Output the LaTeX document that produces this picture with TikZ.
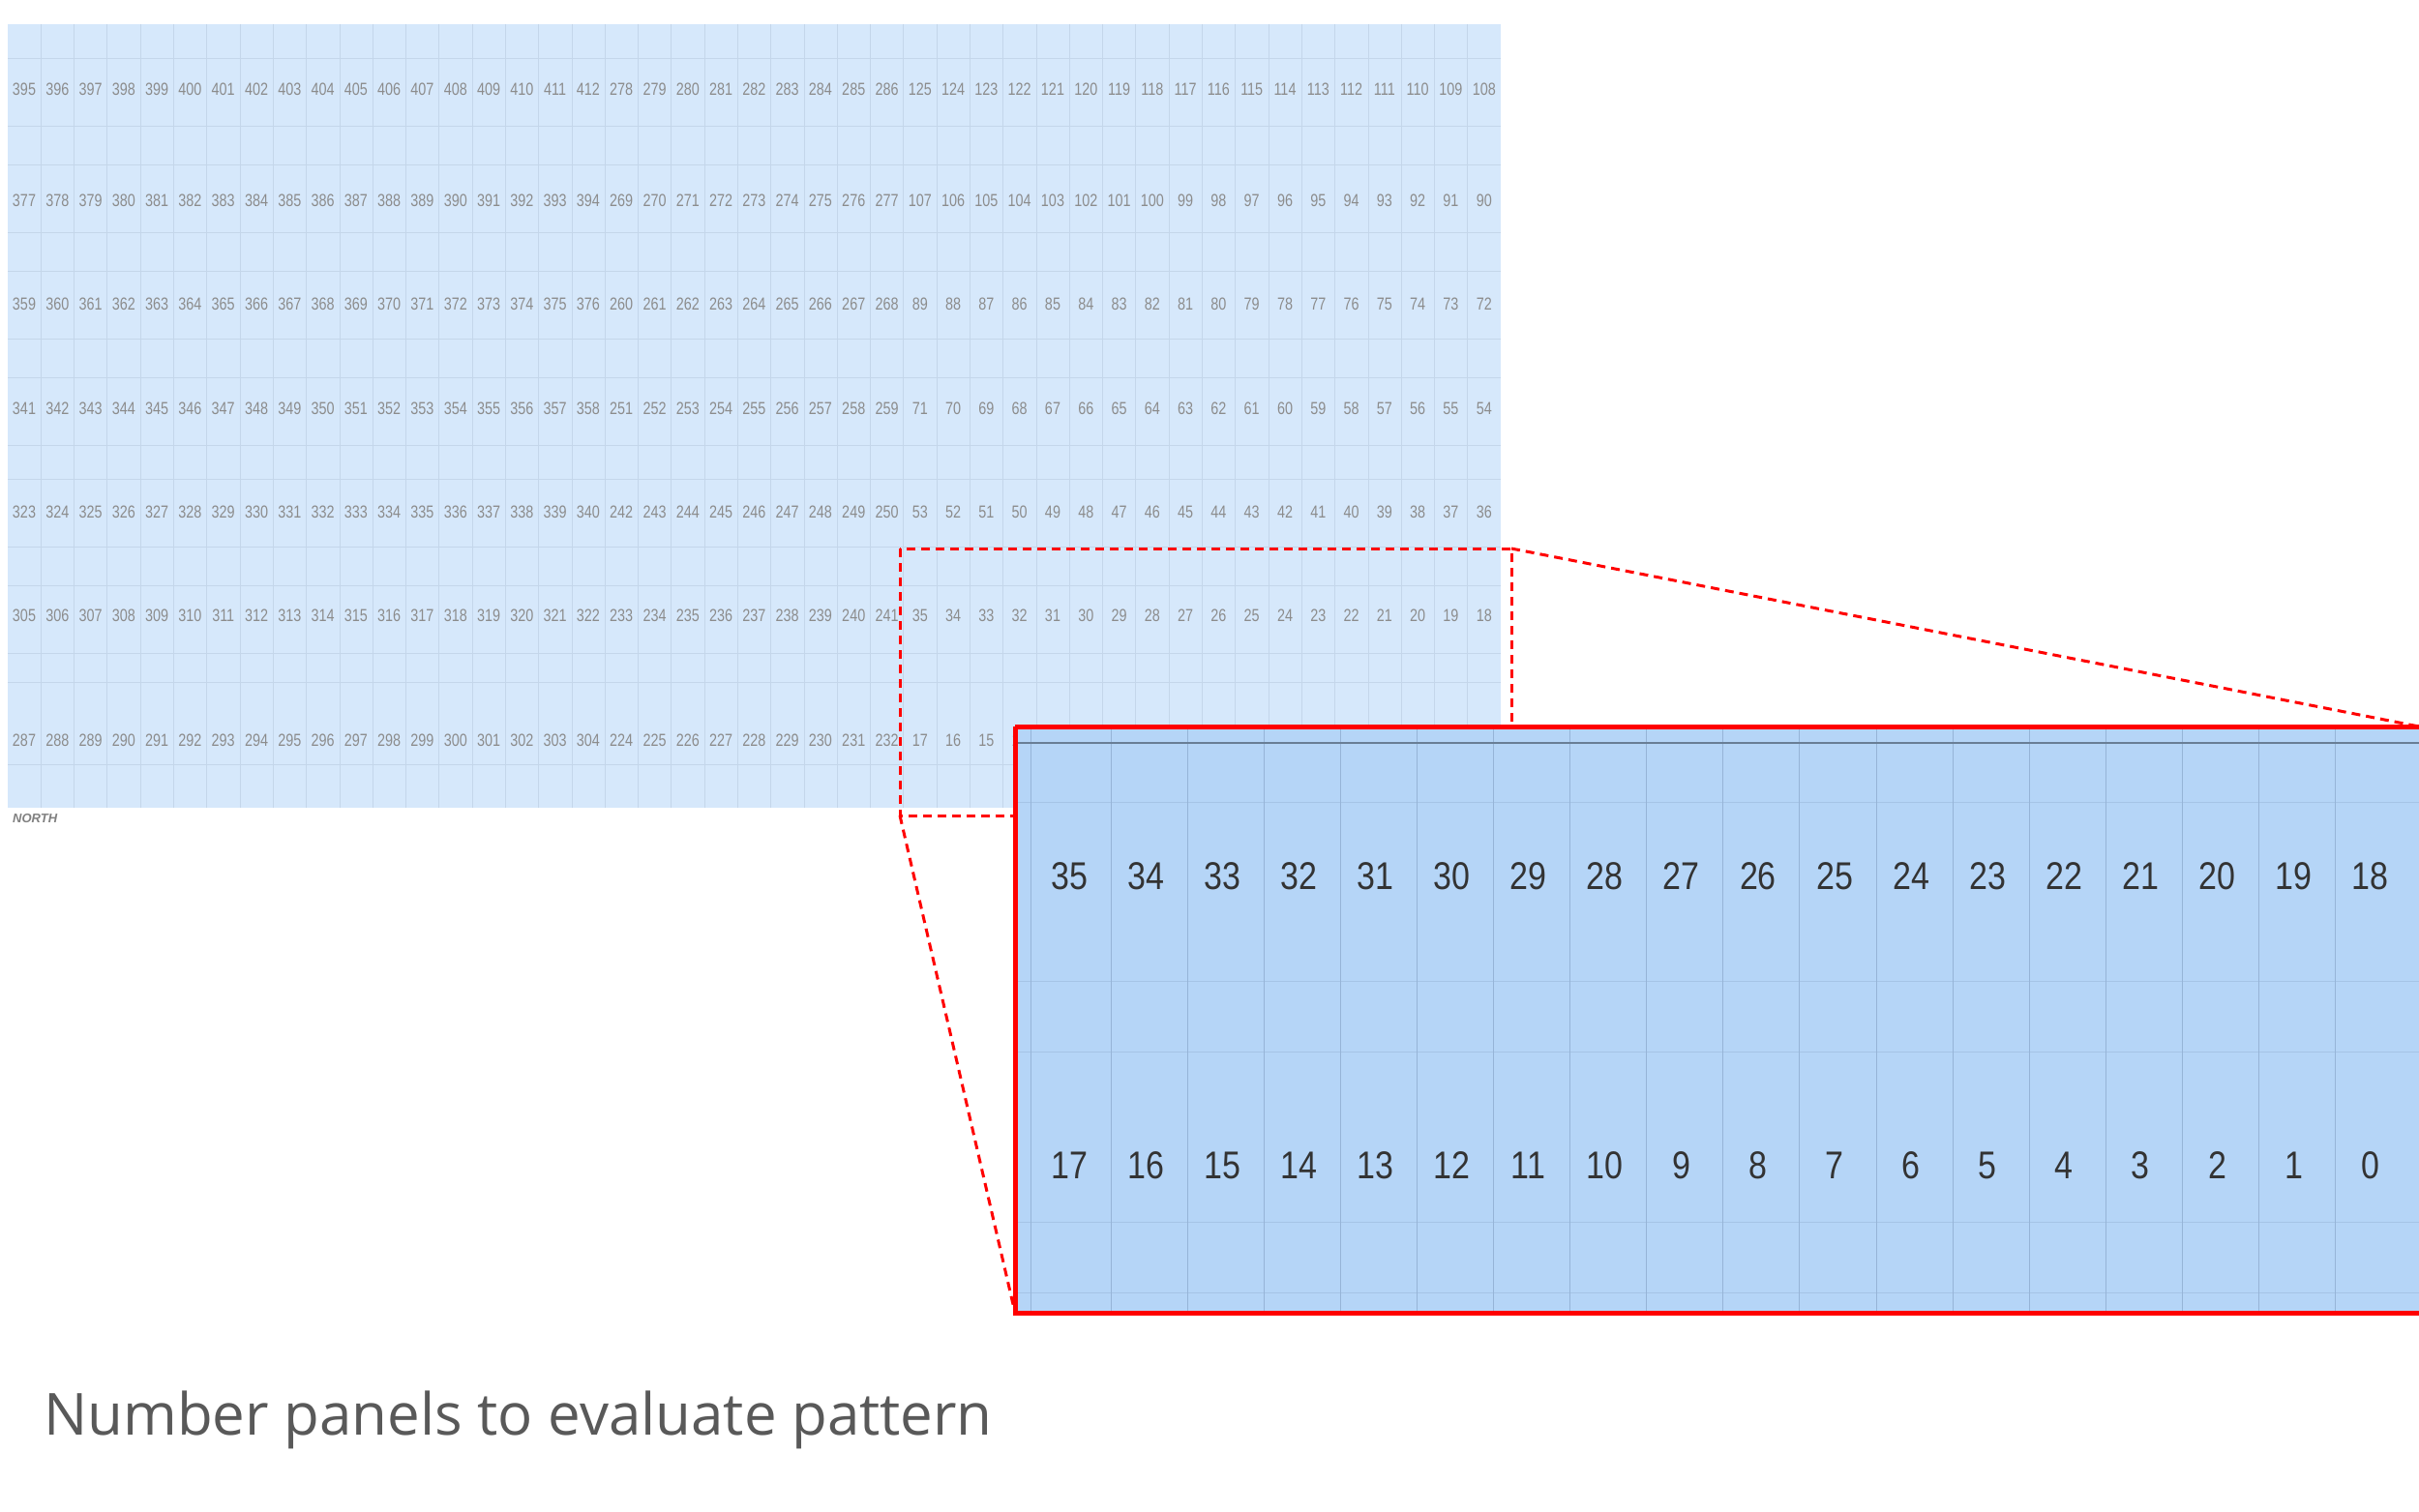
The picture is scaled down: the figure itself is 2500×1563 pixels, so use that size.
\documentclass[tikz,border=0pt]{standalone}
\usepackage{fontspec}
\setmainfont{Liberation Sans}
\newfontfamily\capfont{Open Sans}
\definecolor{gridbg}{RGB}{214,232,251}
\definecolor{zoombg}{RGB}{181,213,247}
\definecolor{gline}{RGB}{196,214,234}
\definecolor{zline}{RGB}{150,180,215}
\begin{document}
\begin{tikzpicture}[x=1pt,y=-1pt,
  smallnum/.style={font=\fontsize{18}{20}\selectfont, text=black!45, xscale=0.8, inner sep=0pt},
  bignum/.style={font=\fontsize{40}{44}\selectfont, text=black!80, xscale=0.85, inner sep=0pt},
  gridline/.style={draw=gline, line width=0.8pt},
  zgridline/.style={draw=zline, line width=1pt},
  zoombox/.style={draw=red, line width=5pt},
  zoomlink/.style={draw=red, line width=3pt, dash pattern=on 9pt off 6pt}]
\useasboundingbox (0,0) rectangle (2500,1563);
\fill[white] (0,0) rectangle (2500,1563);
% main grid
\fill[gridbg] (8,25) rectangle (1551,835);
\foreach \c in {1,...,44} {
  \pgfmathsetmacro\xx{8+34.29*\c}
  \draw[gridline] (\xx,25) -- (\xx,835);
}
\foreach \yy in {60,130,170,240,280,350,390,460,495,565,605,675,705,790} {
  \draw[gridline] (8,\yy) -- (1551,\yy);
}
\foreach \r/\yy in {0/92,1/207,2/314,3/422,4/529,5/636,6/765} {
  \foreach \c in {0,...,44} {
    \pgfmathtruncatemacro\v{\c<18 ? 395-18*\r+\c : (\c<27 ? 278-9*\r+\c-18 : 125-18*\r-\c+27)}
    \pgfmathsetmacro\xx{25+34.29*\c}
    \node[smallnum] (n\r-\c) at (\xx,\yy) {\v};
  }
}
\node[font=\itshape\bfseries\fontsize{13}{14}\selectfont, text=black!50, anchor=north west, inner sep=0pt] (north) at (13,841) {NORTH};
% dashed selection
\coordinate (dtl) at (930,567);
\coordinate (dtr) at (1562,567);
\coordinate (dbl) at (930,843);
\coordinate (dbr) at (1562,843);
\draw[zoomlink] (dtl) rectangle (dbr);
% zoomed panel
\fill[zoombg] (1049,751) rectangle (2500,1357);
\foreach \c in {0,...,16} {
  \pgfmathsetmacro\xx{1148+79.1*\c}
  \draw[zgridline] (\xx,751) -- (\xx,1357);
}
\draw[zgridline] (1065,751) -- (1065,1357);
\draw[draw=zline!70!black, line width=1.5pt] (1049,768) -- (2500,768);
\foreach \yy in {829,1014,1087,1263,1336} {
  \draw[zgridline, draw opacity=0.5] (1049,\yy) -- (2500,\yy);
}
\foreach \c in {0,...,17} {
  \pgfmathsetmacro\xx{1105+79.1*\c}
  \pgfmathtruncatemacro\va{35-\c}
  \pgfmathtruncatemacro\vb{17-\c}
  \node[bignum] (z\va) at (\xx,906) {\va};
  \node[bignum] (z\vb) at (\xx,1205) {\vb};
}
\coordinate (ztl) at (1049,751);
\coordinate (ztr) at (2500,751);
\coordinate (zbl) at (1049,1357);
\draw[zoomlink] (dtr) -- (ztr);
\draw[zoomlink] (dbl) -- (zbl);
\draw[zoombox] (ztl) -- (ztr) (ztl) -- (zbl) -- (2500,1357);
% caption
\node[font=\capfont\fontsize{60}{66}\selectfont, text=black!65, anchor=base west, inner sep=0pt] (cap) at (45,1483) {Number panels to evaluate pattern};
\end{tikzpicture}
\end{document}
